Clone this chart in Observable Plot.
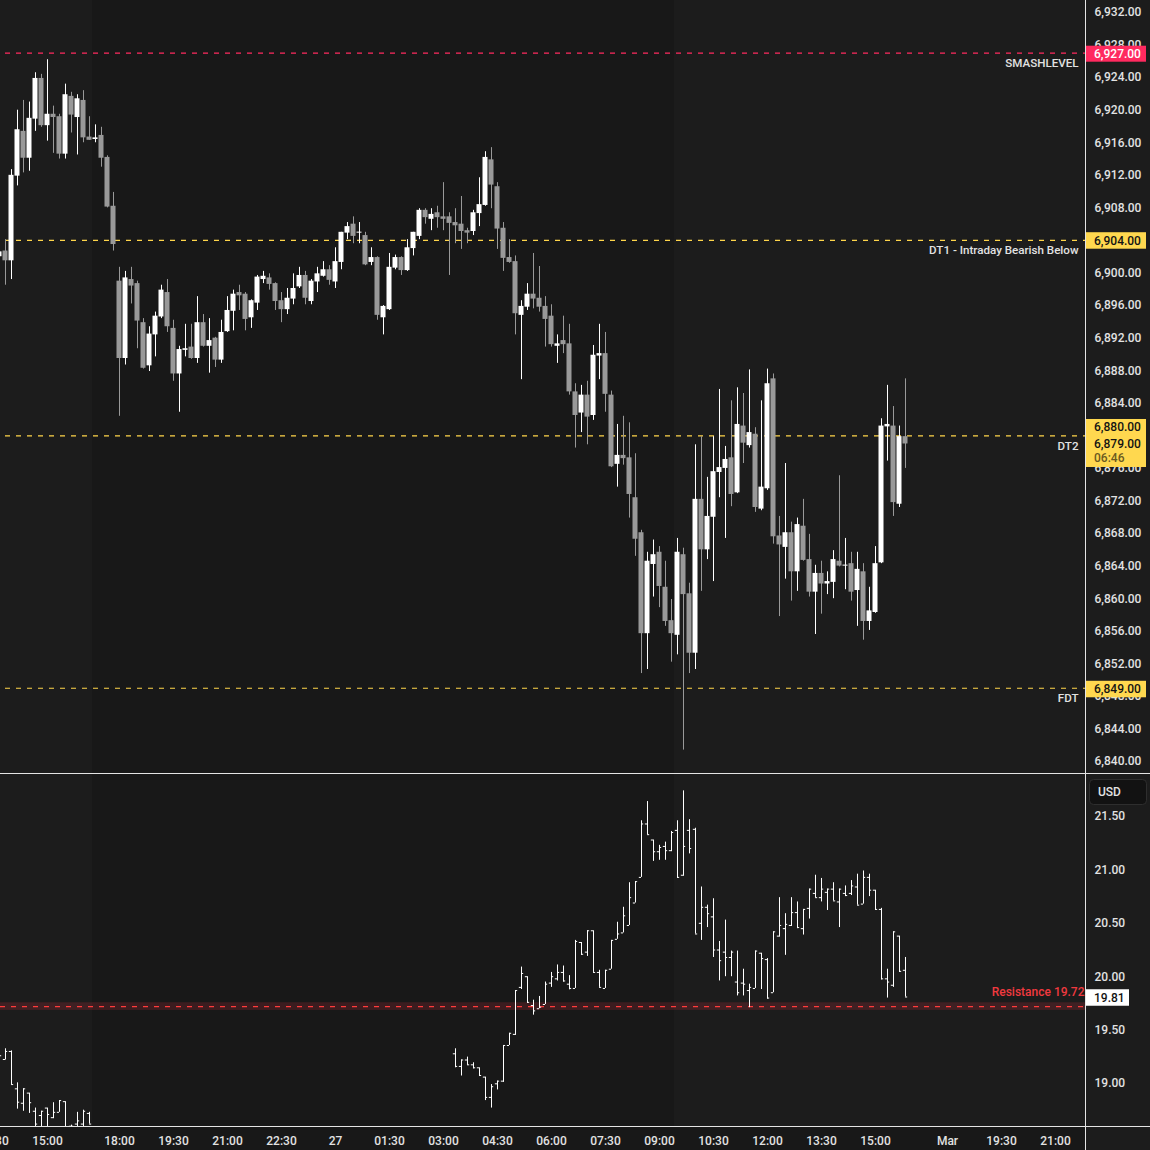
<!DOCTYPE html>
<html><head><meta charset="utf-8">
<script src="https://cdn.jsdelivr.net/npm/d3@7"></script>
<script src="https://cdn.jsdelivr.net/npm/@observablehq/plot@0.6"></script>
<style>
html,body{margin:0;padding:0;background:#181818;}
#wrap{position:relative;width:1150px;height:1150px;overflow:hidden;background:#181818;font-family:Roboto,"DejaVu Sans",sans-serif;}
#wrap svg{position:absolute;left:0;}
#axisbg{position:absolute;left:1085px;top:0;width:65px;height:1150px;background:#1c1c1c;}
</style></head><body><div id="wrap"><div id="axisbg"></div></div>
<script>
// ---------- DATA ----------
// 10-minute bars; bar index 0 = 13:50 (Feb 26). Bars -1..150.
const firstBar = -1;
const spxOpen = [
6902.0,6902.7,6901.5,6911.9,6917.4,6914.1,6918.9,6923.9,6918.1,6919.5,6919.2,6914.6,6921.7,6919.1,6921.2,6916.7,6916.4,6916.9,6914.2,6908.2,
6899.0,6889.5,6899.2,6898.7,6893.9,6888.6,6892.4,6894.6,6897.6,6893.2,6887.6,6890.5,6890.9,6889.5,6893.9,6891.0,6892.0,6889.3,6892.8,6895.3,
6897.6,6897.4,6894.5,6896.3,6899.2,6899.4,6898.7,6896.6,6895.5,6896.8,6898.3,6899.7,6896.5,6898.9,6899.6,6900.4,6898.9,6901.3,6904.9,6906.0,
6904.9,6904.6,6901.3,6901.9,6894.5,6895.5,6900.6,6901.9,6900.3,6903.0,6904.5,6907.7,6906.6,6907.4,6906.9,6906.9,6906.2,6906.0,6905.2,6905.1,
6907.3,6908.3,6913.9,6910.6,6905.5,6901.9,6901.4,6894.8,6895.8,6897.4,6896.9,6895.9,6894.7,6891.0,6891.7,6891.3,6885.4,6882.8,6885.0,6882.5,
6889.8,6890.1,6885.0,6876.5,6877.6,6877.3,6872.4,6868.1,6855.7,6864.2,6865.7,6861.4,6857.3,6855.5,6865.4,6860.6,6853.3,6872.2,6866.0,6870.0,
6875.5,6876.0,6877.3,6873.0,6881.2,6878.8,6880.2,6871.0,6873.5,6887.0,6867.7,6866.3,6868.1,6863.3,6868.9,6864.8,6860.8,6863.1,6861.8,6862.0,
6864.6,6864.0,6864.3,6861.0,6863.3,6857.2,6858.3,6864.4,6881.1,6881.2,6871.6,6879.9];
const spxHigh = [
6902.8,6904.1,6912.7,6920.0,6921.2,6921.0,6924.6,6924.4,6926.2,6920.5,6919.5,6923.2,6922.2,6921.9,6922.4,6919.2,6918.2,6917.9,6914.4,6909.9,
6900.7,6900.2,6900.7,6899.0,6894.4,6893.4,6895.2,6898.5,6899.2,6894.2,6891.0,6893.7,6893.7,6897.1,6894.9,6894.4,6892.1,6894.2,6897.1,6897.9,
6898.5,6897.6,6896.7,6899.7,6900.2,6899.9,6898.8,6897.6,6898.1,6899.9,6900.7,6900.2,6899.2,6900.7,6901.4,6900.9,6903.1,6905.0,6906.2,6906.9,
6906.2,6905.0,6903.1,6902.0,6896.0,6902.4,6902.2,6902.0,6904.1,6905.0,6907.9,6907.9,6907.9,6908.2,6911.1,6907.4,6907.9,6909.4,6905.5,6907.7,
6911.7,6914.9,6915.4,6911.1,6906.2,6904.1,6902.1,6896.6,6898.7,6902.4,6900.8,6897.1,6896.1,6892.4,6894.7,6893.7,6886.4,6886.2,6886.7,6891.1,
6893.7,6892.7,6885.5,6881.4,6882.4,6881.6,6877.8,6868.4,6865.7,6867.2,6866.4,6864.6,6859.9,6867.4,6866.2,6861.9,6878.9,6879.9,6874.9,6879.9,
6885.7,6878.7,6884.3,6885.9,6885.2,6888.1,6881.0,6884.3,6888.2,6887.6,6870.1,6876.6,6869.4,6869.9,6872.2,6867.9,6864.1,6864.6,6863.3,6865.9,
6875.1,6867.4,6865.7,6865.7,6864.3,6861.4,6866.4,6882.1,6886.2,6883.6,6881.2,6887.0];
const spxLow = [
6901.8,6898.5,6899.2,6910.7,6912.3,6912.5,6917.4,6917.9,6916.2,6914.7,6914.0,6914.0,6917.2,6914.5,6916.0,6916.3,6916.0,6913.0,6908.0,6902.7,
6882.4,6888.7,6896.2,6890.7,6888.2,6887.9,6889.7,6894.4,6892.7,6886.7,6882.9,6889.7,6889.4,6888.9,6890.9,6887.7,6888.4,6888.9,6892.7,6892.9,
6895.4,6892.9,6893.2,6895.4,6898.7,6897.9,6895.4,6893.9,6894.9,6896.1,6898.1,6896.1,6896.1,6897.6,6899.5,6898.5,6898.1,6900.4,6904.1,6903.6,
6903.6,6900.9,6900.9,6894.2,6892.4,6895.4,6900.4,6899.7,6900.2,6902.1,6904.1,6906.0,6905.2,6905.5,6905.2,6899.7,6903.6,6902.9,6903.6,6904.6,
6905.7,6908.2,6907.9,6902.9,6900.2,6901.2,6892.4,6886.9,6895.4,6895.6,6895.2,6890.9,6890.9,6888.9,6890.1,6885.0,6878.5,6880.4,6878.9,6881.9,
6886.9,6882.9,6876.1,6873.7,6876.4,6869.9,6865.2,6850.8,6851.3,6860.2,6858.9,6856.6,6852.2,6853.1,6841.4,6850.8,6851.3,6860.9,6864.8,6862.1,
6872.4,6867.4,6871.3,6872.9,6876.6,6878.5,6870.6,6870.8,6873.3,6866.7,6857.8,6862.4,6859.7,6860.9,6864.6,6860.2,6855.6,6858.1,6860.5,6860.0,
6863.9,6861.1,6859.7,6856.6,6854.9,6856.1,6858.2,6864.3,6876.9,6870.1,6871.2,6876.0];
const spxClose = [
6902.6,6901.5,6912.0,6917.6,6914.1,6919.0,6923.9,6918.1,6919.5,6919.1,6914.6,6921.9,6919.4,6921.4,6916.6,6916.3,6916.6,6914.1,6908.1,6903.5,
6889.5,6899.4,6898.4,6894.1,6888.3,6892.5,6894.7,6897.9,6893.4,6887.6,6890.6,6890.7,6889.5,6893.9,6891.0,6891.7,6889.3,6892.7,6895.4,6897.4,
6897.2,6894.3,6896.6,6899.5,6899.6,6898.6,6896.5,6895.5,6896.9,6898.1,6899.7,6896.9,6899.0,6899.9,6900.4,6899.1,6901.4,6905.0,6905.7,6904.5,
6905.0,6901.0,6901.9,6894.8,6895.9,6900.7,6901.9,6900.3,6903.1,6905.0,6907.7,6906.8,6907.2,6906.8,6906.6,6906.1,6905.8,6905.1,6904.9,6907.4,
6908.4,6914.2,6910.8,6905.4,6901.8,6901.3,6895.0,6895.9,6897.4,6896.8,6895.8,6894.3,6891.2,6891.3,6891.2,6885.4,6882.5,6885.0,6882.3,6889.9,
6890.1,6885.1,6876.2,6877.6,6877.2,6872.8,6867.3,6855.7,6864.6,6865.4,6861.5,6857.2,6855.7,6865.7,6860.5,6853.3,6872.2,6866.0,6870.1,6875.6,
6876.1,6877.1,6872.8,6881.4,6879.1,6880.4,6871.2,6873.7,6886.4,6867.6,6866.6,6868.1,6863.3,6869.1,6864.7,6860.8,6863.1,6861.8,6862.1,6864.8,
6864.0,6864.1,6860.8,6863.6,6857.2,6858.5,6864.3,6881.2,6881.4,6871.8,6879.9,6879.0];

// lower panel (USD) OHLC bars: bars -1..14 and 75..150
const vixBars = [...d3.range(-1, 15), ...d3.range(75, 151)];
const vixOpen = [19.25,19.225,19.30,18.95,18.815,18.91,18.74,18.70,18.77,18.68,18.73,18.83,18.60,18.62,18.62,18.72,
19.278,19.16,19.22,19.175,19.147,19.06,18.87,18.997,19.022,19.356,
19.46,19.90,20.0,19.73,19.70,19.74,19.94,19.98,20.04,19.93,
19.89,20.32,20.23,20.43,20.04,19.89,20.07,20.35,20.41,20.48,
20.69,20.93,21.43,21.28,21.17,21.22,21.18,21.37,20.95,21.37,
21.38,20.50,20.65,20.56,20.25,20.23,20.18,19.95,19.94,19.87,
19.89,20.22,20.16,19.85,20.38,20.45,20.48,20.60,20.45,20.64,
20.78,20.74,20.79,20.82,20.70,20.78,20.78,20.84,20.68,20.93,
20.81,20.63,19.98,19.92,20.38,20.06];
const vixHigh = [19.27,19.325,19.305,19.006,18.95,18.91,18.77,18.74,18.77,18.82,18.84,18.83,18.61,18.73,18.75,18.73,
19.325,19.22,19.247,19.194,19.147,19.06,18.99,19.022,19.356,19.47,
19.87,20.09,20.0,19.78,19.815,19.95,20.04,20.11,20.10,20.01,
20.34,20.32,20.43,20.43,20.06,20.06,20.34,20.51,20.65,20.88,
20.89,21.46,21.64,21.28,21.23,21.26,21.36,21.46,21.74,21.47,
21.39,20.84,20.67,20.73,20.33,20.53,20.24,20.24,20.07,19.93,
20.24,20.22,20.17,20.42,20.74,20.59,20.74,20.70,20.63,20.82,
20.95,20.92,20.82,20.88,20.82,20.85,20.90,20.96,20.99,20.96,
20.81,20.64,20.07,20.42,20.38,20.18];
const vixLow = [19.24,19.22,18.99,18.76,18.74,18.72,18.58,18.58,18.56,18.67,18.73,18.55,18.55,18.55,18.55,18.62,
19.147,19.07,19.17,19.137,19.065,18.84,18.77,18.94,19.01,19.356,
19.45,19.88,19.75,19.64,19.70,19.74,19.90,19.96,19.95,19.877,
19.89,20.20,20.19,20.04,19.90,19.89,20.07,20.35,20.41,20.48,
20.69,20.93,21.33,21.08,21.09,21.09,21.17,20.92,20.94,21.15,
20.40,20.34,20.46,20.18,19.96,20.00,20.00,19.82,19.82,19.71,
19.89,19.88,19.79,19.85,20.37,20.20,20.47,20.45,20.39,20.54,
20.74,20.70,20.62,20.71,20.46,20.75,20.76,20.67,20.68,20.75,
20.62,19.97,19.80,19.90,20.04,19.81];
const vixClose = [19.26,19.30,18.99,18.825,18.95,18.82,18.62,18.74,18.71,18.73,18.84,18.58,18.60,18.65,18.74,18.62,
19.16,19.22,19.175,19.147,19.075,18.87,18.97,19.022,19.356,19.47,
19.87,20.03,19.76,19.68,19.715,19.93,20.0,20.04,19.96,19.89,
20.33,20.21,20.43,20.04,19.90,20.06,20.34,20.40,20.57,20.74,
20.89,21.43,21.33,21.17,21.21,21.18,21.35,20.93,21.22,21.20,
20.40,20.65,20.59,20.25,20.15,20.18,20.23,19.85,19.93,19.90,
20.24,20.17,19.80,20.42,20.48,20.49,20.60,20.46,20.63,20.82,
20.74,20.82,20.82,20.71,20.82,20.76,20.85,20.67,20.93,20.81,
20.63,19.98,19.95,20.42,20.05,19.81];

// horizontal levels
const levelNames = ["SMASHLEVEL", "DT1 - Intraday Bearish Below", "DT2", "FDT"];
const levelValues = [6927, 6904, 6880, 6849];
const levelColors = ["#ff2a5f", "#ffd54a", "#ffd54a", "#ffd54a"];
const resistanceValue = 19.72;
const resistanceLabel = "Resistance 19.72";

// axis ticks
const topTicks = [6932,6928,6924,6920,6916,6912,6908,6904,6900,6896,6892,6888,6884,6880,6876,6872,6868,6864,6860,6856,6852,6848,6844,6840];
const bottomTicks = [21.5, 21.0, 20.5, 20.0, 19.5, 19.0];
const xTickBars = [-2, 7, 19, 28, 37, 46, 55, 64, 73, 82, 91, 100, 109, 118, 127, 136, 145, 157, 166, 175];
const xTickLabels = ["13:30","15:00","18:00","19:30","21:00","22:30","27","01:30","03:00","04:30","06:00","07:30","09:00","10:30","12:00","13:30","15:00","Mar","19:30","21:00"];
// regular-session shading (bar index ranges)
const sessionFrom = [-1, 111.5];
const sessionTo = [14.5, 180];
const lastPrice = 6879.0, countdown = "06:46", lastUsd = 19.81;

// ---------- BUILD ----------
const W = 1150, AXIS_X = 1085, SPLIT = 774, BOTTOM_H = 376;
const xDomain = [-5/6, 180];
const UP = "#ffffff", DOWN = "#999999", TXT = "#e2e2e2";

const candles = spxOpen.map((o, i) => ({k: firstBar + i, open: o, high: spxHigh[i], low: spxLow[i], close: spxClose[i]}));
const vix = vixBars.map((k, i) => ({k, open: vixOpen[i], high: vixHigh[i], low: vixLow[i], close: vixClose[i]}));
const levels = levelNames.map((n, i) => ({name: n, value: levelValues[i], color: levelColors[i]}));
const sessions = sessionFrom.map((f, i) => ({from: f, to: sessionTo[i]}));
const tickLabel = new Map(xTickBars.map((k, i) => [k, xTickLabels[i]]));
const half = 5/12;

const baseStyle = {background: "transparent", fontFamily: "Roboto, sans-serif", fontSize: "12px", fontWeight: 500, overflow: "hidden"};

const topChart = Plot.plot({
  width: W, height: SPLIT,
  marginLeft: 0, marginRight: W - AXIS_X, marginTop: 0, marginBottom: 0,
  style: baseStyle,
  color: {type: "identity"},
  x: {type: "linear", domain: xDomain, axis: null},
  y: {type: "linear", domain: [6838.403, 6933.474]},
  marks: [
    Plot.rect(sessions, {x1: "from", x2: "to", fill: "#1c1c1c"}),
    Plot.ruleY(levels, {y: "value", x1: 0, x2: xDomain[1], stroke: "color", strokeDasharray: "5,6", strokeWidth: 1.2}),
    Plot.text(levels, {y: "value", x: xDomain[1], text: "name", textAnchor: "end", dx: -7, dy: 10, fill: TXT, fontSize: 11.6}),
    Plot.ruleX(candles, {x: "k", y1: "low", y2: "high", stroke: d => d.close >= d.open ? UP : DOWN, strokeWidth: 1}),
    Plot.rect(candles, {x1: d => d.k - half, x2: d => d.k + half, y1: "open", y2: d => Math.abs(d.close - d.open) < 0.12 ? d.open + (d.close >= d.open ? 0.12 : -0.12) : d.close,
      fill: d => d.close >= d.open ? UP : DOWN}),
    Plot.axisY(topTicks, {anchor: "right", tickSize: 0, tickPadding: 9, tickFormat: d3.format(",.2f"), color: TXT, fontSize: 12, label: null})
  ]
});

const bottomChart = Plot.plot({
  width: W, height: BOTTOM_H,
  marginLeft: 0, marginRight: W - AXIS_X, marginTop: 0, marginBottom: 24,
  style: baseStyle,
  color: {type: "identity"},
  x: {type: "linear", domain: xDomain},
  y: {type: "linear", domain: [18.5974, 21.8933]},
  marks: [
    Plot.rect(sessions, {x1: "from", x2: "to", fill: "#1c1c1c"}),
    Plot.rect([resistanceValue], {x1: xDomain[0], x2: xDomain[1], y1: d => d - 0.036, y2: d => d + 0.036, fill: "#f23645", fillOpacity: 0.17}),
    Plot.ruleY([resistanceValue], {y: d => d, x1: xDomain[0], x2: xDomain[1], stroke: "#ff3b3b", strokeDasharray: "5,6", strokeWidth: 1.2}),
    Plot.text([resistanceValue], {y: d => d, x: xDomain[1], text: () => resistanceLabel, textAnchor: "end", dx: -1, dy: -14, fill: "#f0393f", fontSize: 12}),
    Plot.ruleX(vix, {x: "k", y1: "low", y2: "high", stroke: "#ffffff", clip: true}),
    Plot.ruleY(vix, {y: "open", x1: d => d.k - 0.36, x2: "k", stroke: "#ffffff", clip: true}),
    Plot.ruleY(vix, {y: "close", x1: "k", x2: d => d.k + 0.36, stroke: "#ffffff", clip: true}),
    Plot.axisY(bottomTicks, {anchor: "right", tickSize: 0, tickPadding: 9, tickFormat: d3.format(".2f"), color: TXT, fontSize: 12, label: null}),
    Plot.axisX(xTickBars, {anchor: "bottom", tickSize: 0, tickPadding: 10, tickFormat: d => tickLabel.get(d), color: TXT, fontSize: 12, label: null})
  ]
});

const wrap = document.getElementById("wrap");
topChart.style.top = "0px";
bottomChart.style.top = SPLIT + "px";
wrap.appendChild(topChart);
wrap.appendChild(bottomChart);

// ---------- overlay: frame lines and price tags (positions from the Plot scales) ----------
const yT = v => topChart.scale("y").apply(v);
const yB = v => SPLIT + bottomChart.scale("y").apply(v);
const ov = d3.select(wrap).append("svg").attr("width", W).attr("height", 1150)
  .style("position", "absolute").style("top", "0px").style("left", "0px")
  .style("font-family", "Roboto, sans-serif").style("font-size", "12px").style("font-weight", 500);

const lineCol = "#e4e4e4";
ov.append("line").attr("x1", 0).attr("x2", W).attr("y1", SPLIT - 0.5).attr("y2", SPLIT - 0.5).attr("stroke", lineCol);
ov.append("line").attr("x1", 0).attr("x2", W).attr("y1", SPLIT + BOTTOM_H - 24 + 0.5).attr("y2", SPLIT + BOTTOM_H - 24 + 0.5).attr("stroke", lineCol);
ov.append("line").attr("x1", AXIS_X + 0.5).attr("x2", AXIS_X + 0.5).attr("y1", 0).attr("y2", 1150).attr("stroke", lineCol);

function tag(yc, w, h, fill) {
  ov.append("rect").attr("x", AXIS_X + 1).attr("y", yc - h / 2).attr("width", w).attr("height", h).attr("fill", fill);
}
function label(y, text, fill) {
  ov.append("text").attr("x", AXIS_X + 9).attr("y", y).attr("dy", "0.35em").attr("fill", fill).text(text);
}
const fmt = d3.format(",.2f");
const yellow = "#ffd84f";
// SMASHLEVEL tag
let yc = yT(levelValues[0]) + 1;
tag(yc, 60, 16, levelColors[0]); label(yc, fmt(levelValues[0]), "#ffffff");
// DT1 tag
yc = yT(levelValues[1]) + 0.5;
tag(yc, 60, 16.5, yellow); label(yc, fmt(levelValues[1]), "#131313");
// DT2 + last price + countdown
const yl = yT(lastPrice);
ov.append("rect").attr("x", AXIS_X + 1).attr("y", yl - 24.5).attr("width", 60).attr("height", 48).attr("fill", yellow);
label(yl - 16.7, fmt(levelValues[2]), "#131313");
label(yl + 0.2, fmt(lastPrice), "#131313");
label(yl + 14.5, countdown, "#6b5a20");
// FDT tag
yc = yT(levelValues[3]) + 1.3;
tag(yc, 60, 16.5, yellow); label(yc, fmt(levelValues[3]), "#131313");
// USD last value
yc = yB(lastUsd) + 1;
tag(yc, 43, 16.5, "#ffffff"); label(yc, d3.format(".2f")(lastUsd), "#131313");
// USD currency box
ov.append("rect").attr("x", 1089.5).attr("y", SPLIT + 5.5).attr("width", 57).attr("height", 25).attr("rx", 4)
  .attr("fill", "#121212").attr("stroke", "#2e2e2e");
ov.append("text").attr("x", 1098).attr("y", SPLIT + 18).attr("dy", "0.35em").attr("fill", TXT).text("USD");
</script></body></html>
